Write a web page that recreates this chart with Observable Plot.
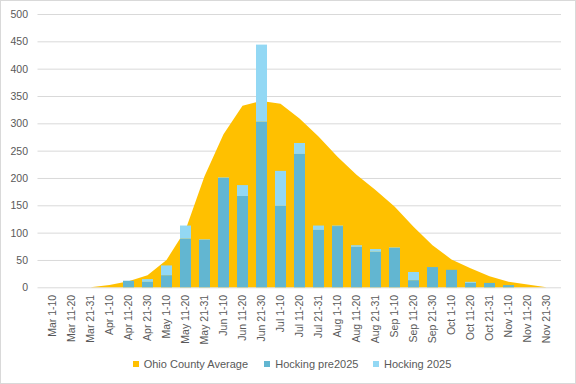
<!DOCTYPE html>
<html><head><meta charset="utf-8">
<script src="https://cdn.jsdelivr.net/npm/d3@7"></script>
<script src="https://cdn.jsdelivr.net/npm/@observablehq/plot@0.6"></script>
<style>
body{margin:0;background:#fff}
#wrap{position:relative;width:576px;height:384px;overflow:hidden;font-family:"Liberation Sans",Arial,sans-serif;background:#fff}
#frame{position:absolute;left:0;top:0;width:576px;height:384px;box-sizing:border-box;border:1px solid #d9d9d9;pointer-events:none}
.item{position:absolute;top:357px;height:14px;display:flex;align-items:center;font-size:11px;color:#595959;white-space:nowrap}
.sw{width:6px;height:6px;margin-right:5px;display:inline-block}
</style>
</head><body>
<div id="wrap"><div id="chart"></div><div id="legend"></div><div id="frame"></div></div>
<script>
const categories = ["Mar 1-10","Mar 11-20","Mar 21-31","Apr 1-10","Apr 11-20","Apr 21-30","May 1-10","May 11-20","May 21-31","Jun 1-10","Jun 11-20","Jun 21-30","Jul 1-10","Jul 11-20","Jul 21-31","Aug 1-10","Aug 11-20","Aug 21-31","Sep 1-10","Sep 11-20","Sep 21-30","Oct 1-10","Oct 11-20","Oct 21-31","Nov 1-10","Nov 11-20","Nov 21-30"];
const ohioAverage = [0,0,0,4,11,22,50,105,203,280,332,341,336,309,276,239,206,178,148,111,77,51,35,20,10,5,0];
const hockingPre2025 = [0,0,0,0,12,10,22,89,87,200,167,303,149,244,105,112,74,65,72,13,37,32,8,8,4,0,0];
const hocking2025 = [0,0,0,0,0,5,18,24,1,1,20,141,64,20,8,1,3,5,1,15,0,0,2,0,0,0,0];
const seriesNames = ["Ohio County Average","Hocking pre2025","Hocking 2025"];
const seriesColors = ["#FFC000","#62B6D1","#93D8F4"];
const yTicks = [0,50,100,150,200,250,300,350,400,450,500];

const ohioRows = categories.map((c,i)=>({cat:c, value:ohioAverage[i]}));
const barRows = [];
categories.forEach((c,i)=>{
  barRows.push({cat:c, series:seriesNames[1], value:hockingPre2025[i]});
  barRows.push({cat:c, series:seriesNames[2], value:hocking2025[i]});
});

const chart = Plot.plot({
  width:576, height:345,
  marginLeft:37.5, marginRight:15, marginTop:14, marginBottom:57.7,
  x:{domain:categories, paddingInner:0.43, paddingOuter:0.215, label:null},
  y:{domain:[0,500], label:null},
  color:{domain:seriesNames, range:seriesColors},
  style:{fontFamily:'"Liberation Sans",Arial,sans-serif', fontSize:"10.5px", color:"#595959", background:"transparent", overflow:"visible"},
  marks:[
    Plot.gridY(yTicks,{stroke:"#d9d9d9", strokeOpacity:1, strokeWidth:1}),
    Plot.areaY(ohioRows,{x:"cat", y:"value", fill:seriesColors[0], curve:"linear"}),
    Plot.barY(barRows,{x:"cat", y:"value", fill:"series", order:null}),
    Plot.axisY(yTicks,{tickSize:0, tickPadding:10, fill:"#595959", label:null}),
    Plot.axisX({tickRotate:-90, tickSize:0, tickPadding:7, fill:"#595959", label:null})
  ]
});
document.getElementById("chart").appendChild(chart);

const legendLefts = [132.7, 264.3, 373];
const legend = document.getElementById("legend");
seriesNames.forEach((name,i)=>{
  const it = document.createElement("div");
  it.className = "item";
  it.style.left = legendLefts[i] + "px";
  const sw = document.createElement("span");
  sw.className = "sw"; sw.style.background = seriesColors[i];
  it.appendChild(sw);
  it.appendChild(document.createTextNode(name));
  legend.appendChild(it);
});
</script>
</body></html>
